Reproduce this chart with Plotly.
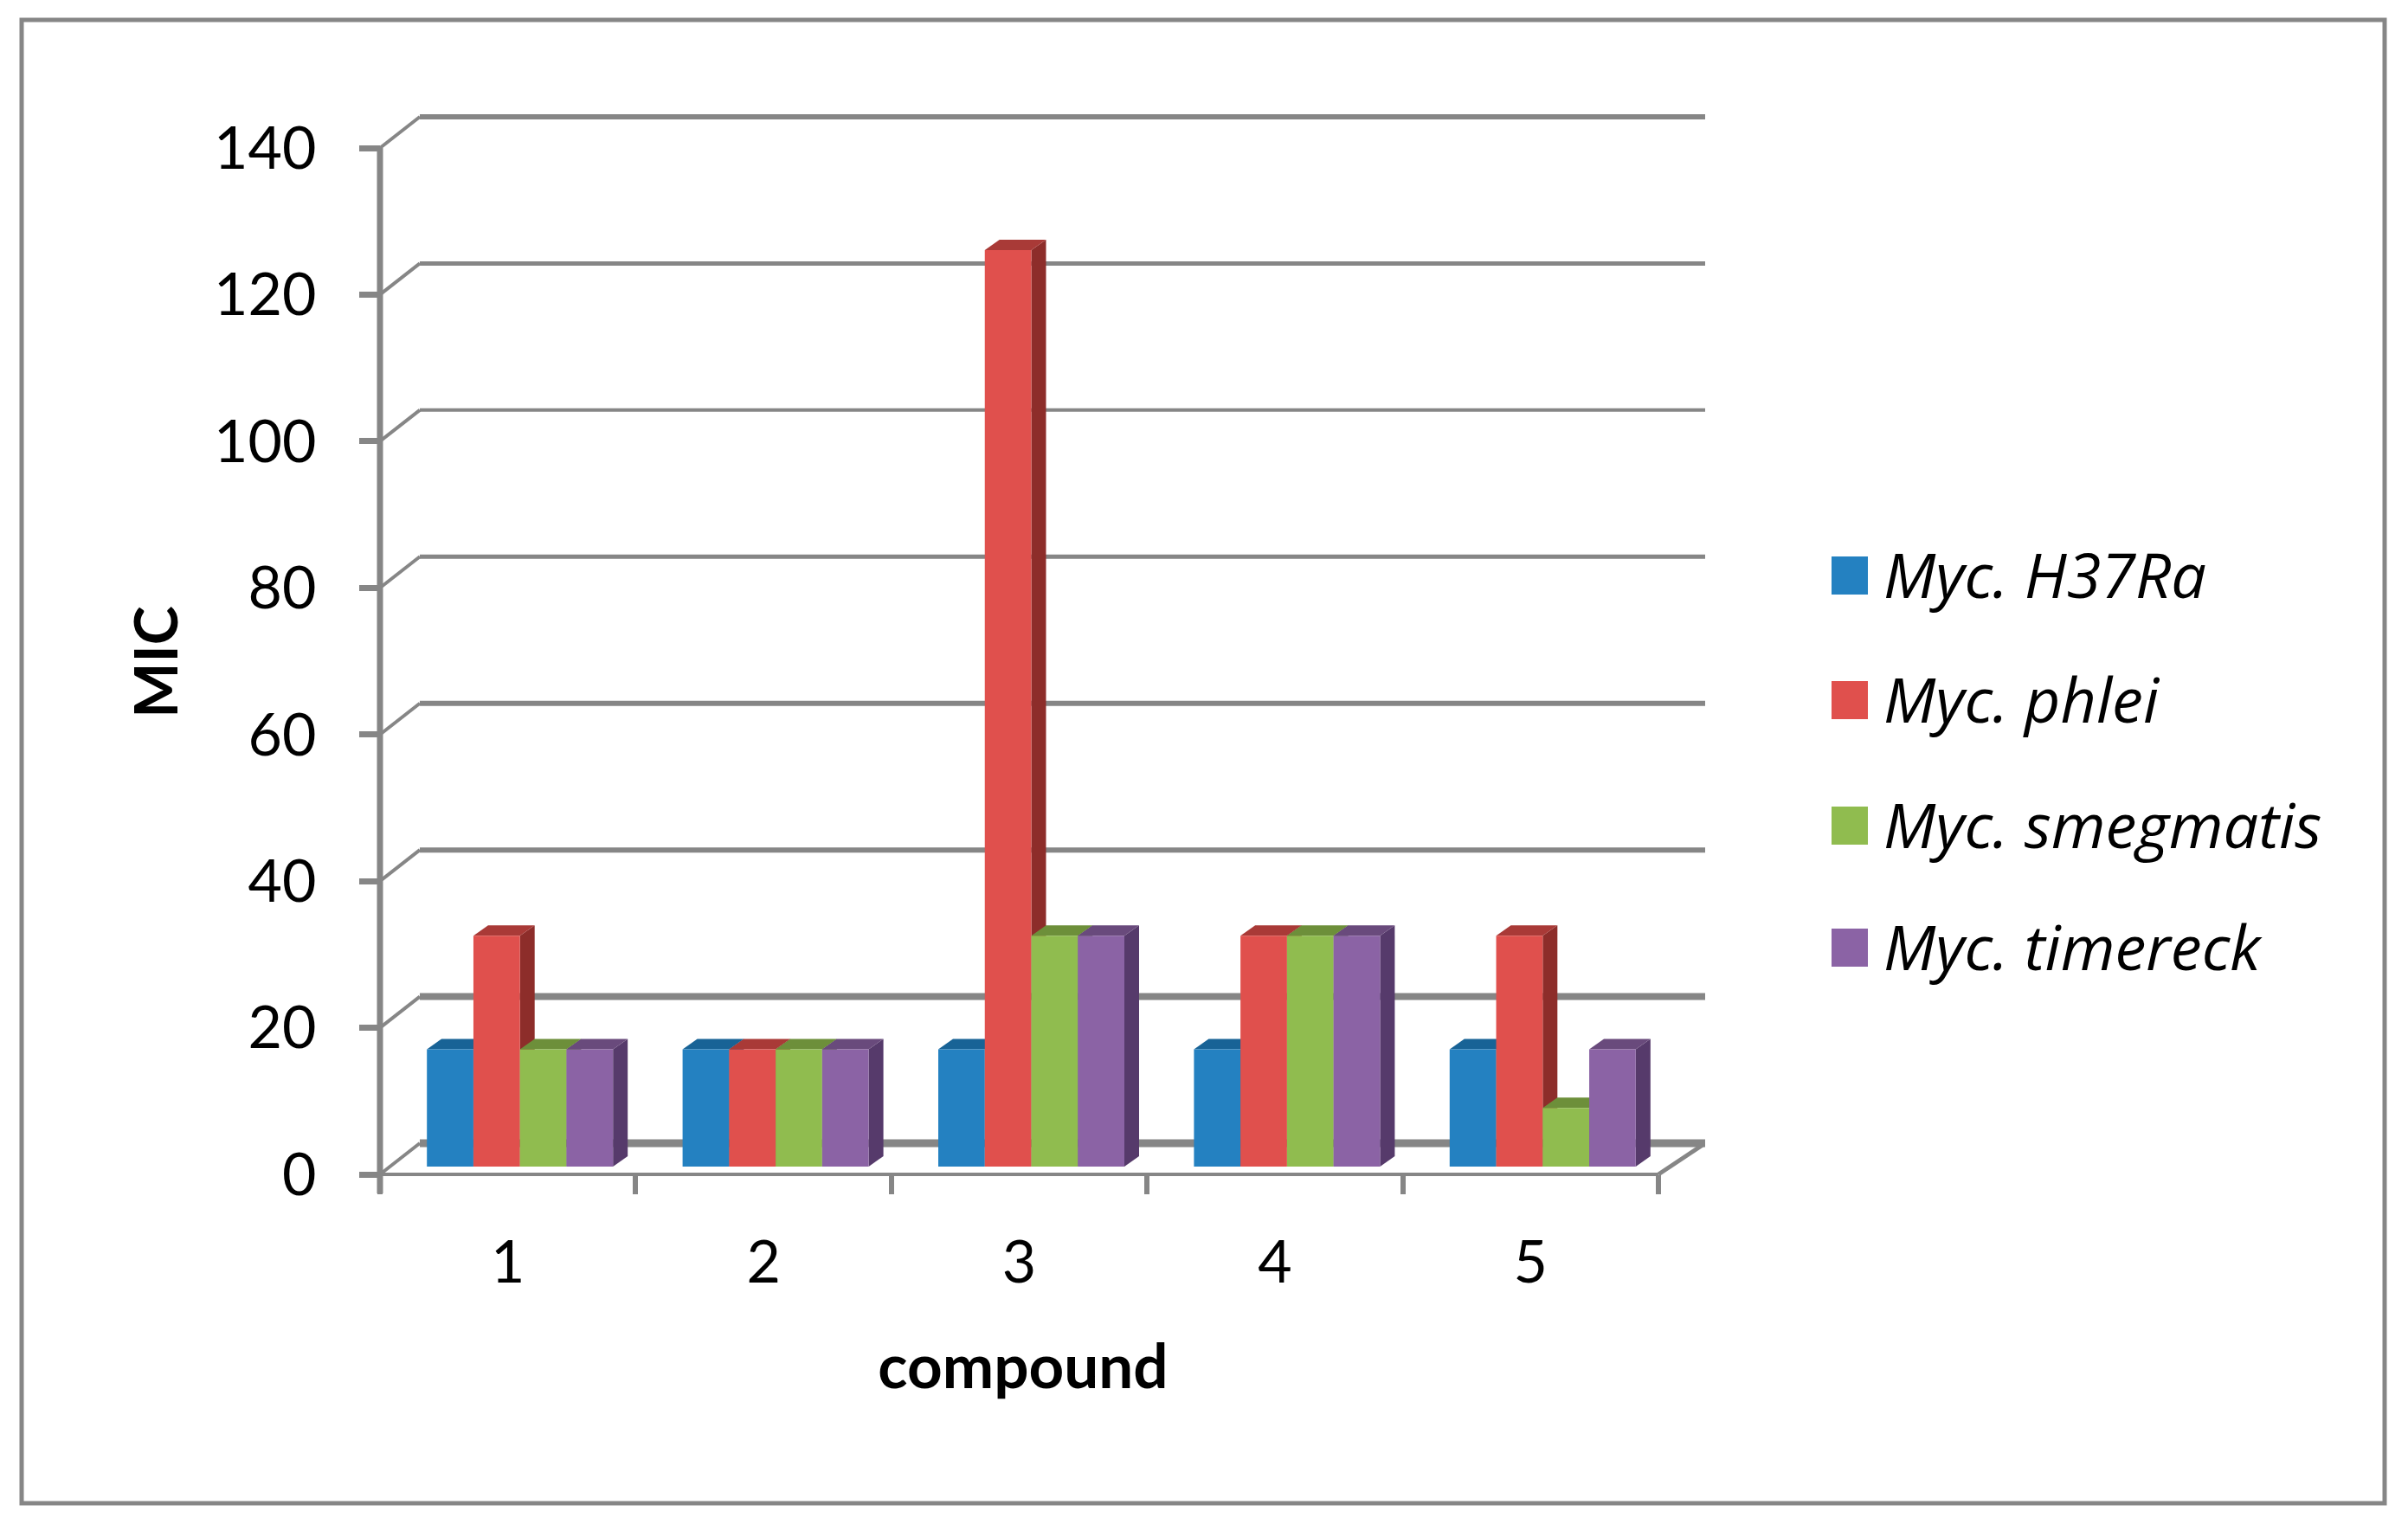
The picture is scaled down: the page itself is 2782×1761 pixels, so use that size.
import plotly.graph_objects as go

# ---- data ----
compounds = [1, 2, 3, 4, 5]
series_names = ["Myc. H37Ra", "Myc. phlei", "Myc. smegmatis", "Myc. timereck"]
h37ra = [16, 16, 16, 16, 16]
phlei = [31.5, 16, 125, 31.5, 31.5]
smegmatis = [16, 16, 31.5, 31.5, 8]
timereck = [16, 16, 31.5, 31.5, 16]
y_ticks = [0, 20, 40, 60, 80, 100, 120, 140]
cat_edges = [0.5, 1.5, 2.5, 3.5, 4.5, 5.5]
grid_widths = [9, 8, 6, 6, 5, 4, 5, 6]

# ---- style ----
front = ["#2481C1", "#E0504D", "#90BC4F", "#8B63A5"]
top_c = ["#186396", "#A93A37", "#6D8F3A", "#694A7C"]
side_c = ["#12507A", "#8D2D2A", "#567230", "#563A6B"]
GREY = "#868686"
FONT = "Lato, 'Open Sans', sans-serif"
LEGEND_FONT = "'Open Sans', Lato, sans-serif"
W, H = 2782, 1761
# pixel frame of the category/value scale
L, R, T, B = 439, 1916, 171, 1357
# pixel frame of the (larger) plot area that also holds the back wall
PL, PR, PT, PB = 394, 1970, 130, 1400
px_x = (R - L) / 5.0
px_y = (B - T) / 140.0
BAR_W = 53.75 / px_x
SHIFT = 14 / px_x
BASE = 9 / px_y
DX, DY = 17 / px_x, 12 / px_y
WALL_DX, WALL_DY = 46 / px_x, 36 / px_y
WALL_END = 54 / px_x
X0, X1 = cat_edges[0], cat_edges[-1]
XR = [X0 - (L - PL) / px_x, X1 + (PR - R) / px_x]
YR = [-(PB - B) / px_y, (B - PT) / px_y]


def line(xs, ys, lw):
    return go.Scatter(x=xs, y=ys, mode="lines", line=dict(color=GREY, width=lw),
                      showlegend=False, hoverinfo="skip")


fig = go.Figure()

# back wall gridlines and their connectors to the y axis
for v, lw in zip(y_ticks, grid_widths):
    fig.add_trace(line([X0, X0 + WALL_DX], [v, v + WALL_DY], 4))
    fig.add_trace(line([X0 + WALL_DX, X1 + WALL_END], [v + WALL_DY, v + WALL_DY], lw))
# floor right edge and axis lines
fig.add_trace(line([X1, X1 + WALL_END], [0, WALL_DY], 5))
fig.add_trace(line([X0, X1], [0, 0], 4))
fig.add_trace(line([X0, X0], [-22 / px_y, 140], 7))

values = [h37ra, phlei, smegmatis, timereck]
# 3-D faces, left to right
for i, c in enumerate(compounds):
    for j, vals in enumerate(values):
        xl = c + SHIFT + (j - 2) * BAR_W
        xr = xl + BAR_W
        t = BASE + vals[i]
        fig.add_trace(go.Scatter(
            x=[xr, xr + DX, xr + DX, xr, xr], y=[BASE, BASE + DY, t + DY, t, BASE],
            mode="lines", fill="toself", fillcolor=side_c[j], line=dict(width=0),
            showlegend=False, hoverinfo="skip"))
        fig.add_trace(go.Scatter(
            x=[xl, xr, xr + DX, xl + DX, xl], y=[t, t, t + DY, t + DY, t],
            mode="lines", fill="toself", fillcolor=top_c[j], line=dict(width=0),
            showlegend=False, hoverinfo="skip"))

# front faces on an overlaid subplot, so they cover the side faces
for j, (name, vals) in enumerate(zip(series_names, values)):
    fig.add_trace(go.Bar(
        x=compounds, y=vals, base=BASE, name=name, width=BAR_W,
        offset=SHIFT + (j - 2) * BAR_W, marker=dict(color=front[j], line=dict(width=0)),
        xaxis="x2", yaxis="y2", showlegend=False))


def px(x):
    return (x - PL) / (PR - PL)


def py(y):
    return (PB - y) / (PB - PT)


shapes = [dict(type="rect", xref="paper", yref="paper", x0=px(25), x1=px(2755), y0=py(23), y1=py(1737),
               line=dict(color=GREY, width=5), fillcolor="rgba(0,0,0,0)", layer="below")]
annotations = []
legend_rows = [665, 809, 954, 1095]
for name, color, ry in zip(series_names, front, legend_rows):
    shapes.append(dict(type="rect", xref="paper", yref="paper", x0=px(2116), x1=px(2158),
                       y0=py(ry - 22), y1=py(ry + 22), fillcolor=color, line=dict(width=0)))
    annotations.append(dict(text=f"<i>{name}</i>", xref="paper", yref="paper", x=px(2174), y=py(ry - 2),
                            xanchor="left", yanchor="middle", showarrow=False,
                            font=dict(family=LEGEND_FONT, size=72, color="#000000")))

fig.update_layout(
    width=W, height=H, autosize=False, paper_bgcolor="white", plot_bgcolor="white",
    margin=dict(l=PL, r=W - PR, t=PT, b=H - PB, pad=0, autoexpand=False),
    barmode="overlay", showlegend=False, shapes=shapes, annotations=annotations,
    font=dict(family=FONT, color="#000000"),
    xaxis=dict(
        range=XR, anchor="free", position=py(B), tickmode="array", tickvals=compounds,
        ticktext=[str(c) for c in compounds],
        ticks="", showgrid=False, zeroline=False, showline=False,
        tickfont=dict(size=68), ticklabelstandoff=56,
        minor=dict(tickmode="array", tickvals=cat_edges, ticks="outside",
                   ticklen=22, tickwidth=6, tickcolor=GREY, showgrid=False),
        title=dict(text="<b>compound</b>", font=dict(size=71), standoff=59)),
    yaxis=dict(
        range=YR, anchor="free", position=px(L), tickmode="array", tickvals=y_ticks,
        ticks="outside", ticklen=24, tickwidth=7,
        tickcolor=GREY, showgrid=False, zeroline=False, showline=False,
        tickfont=dict(size=68), ticklabelstandoff=36,
        title=dict(text="<b>MIC</b>", font=dict(size=68), standoff=18)),
    xaxis2=dict(overlaying="x", matches="x", visible=False),
    yaxis2=dict(overlaying="y", matches="y", visible=False),
)

fig.write_html("out.html", config=dict(displayModeBar=False), post_script="document.body.style.margin='0';")
